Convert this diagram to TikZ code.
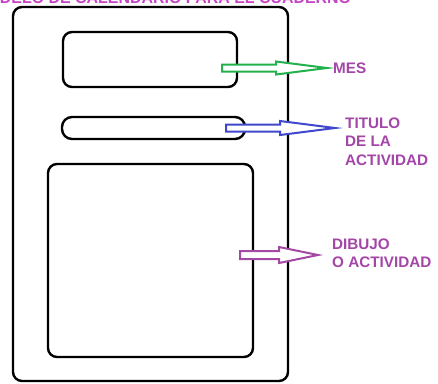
\documentclass[tikz,border=0pt]{standalone}
\usepackage{fontspec}
\setmainfont{Liberation Sans}
\definecolor{lbl}{HTML}{A346A8}
\definecolor{ttl}{HTML}{C545C5}
\definecolor{garrow}{HTML}{22B14C}
\definecolor{barrow}{HTML}{3F48CC}
\definecolor{parrow}{HTML}{A349A4}
\tikzset{
  frame/.style={draw=black, line width=2.4bp, rounded corners=9bp},
  lbltext/.style={text=lbl, font=\fontsize{15.3}{18.5}\selectfont\bfseries, align=left, inner sep=0pt, anchor=west},
  blockarrow/.style={line width=2bp, fill=white, line join=miter}
}
% #1 color, #2 tail x, #3 head base x, #4 tip x, #5 y, #6 shaft half, #7 head half
\newcommand{\hollowarrow}[7]{%
  \draw[blockarrow, draw=#1] (#2,#5-#6) -- (#3,#5-#6) -- (#3,#5-#7) -- (#4,#5) -- (#3,#5+#7) -- (#3,#5+#6) -- (#2,#5+#6) -- cycle;}
\begin{document}
\begin{tikzpicture}[x=1bp,y=-1bp]
\useasboundingbox (0,0) rectangle (438,383);
\clip (0,0) rectangle (438,383);
\fill[white] (0,0) rectangle (438,383);
% title (cut at top)
\node[text=ttl, font=\fontsize{16}{18}\selectfont\bfseries, inner sep=0pt, anchor=base west] (title) at (-26,3) {MODELO DE CALENDARIO PARA EL CUADERNO};
% frames
\draw[frame] (13,7) rectangle (288,381);
\draw[frame] (63,32) rectangle (237,87);
\draw[frame, rounded corners=10bp] (62,117) rectangle (245,139);
\draw[frame] (48,164) rectangle (253,357);
% arrows
\hollowarrow{garrow}{222}{276}{327}{68}{3.5}{6.5}
\hollowarrow{barrow}{226}{280}{335}{128}{3.5}{7}
\hollowarrow{parrow}{240}{279}{318}{255}{4}{8}
% labels
\node[lbltext] (mes) at (333,68) {MES};
\node[lbltext] (tit) at (345,141.5) {TITULO\\DE LA\\ACTIVIDAD};
\node[lbltext] (dib) at (332,253.5) {DIBUJO\\O ACTIVIDAD};
\end{tikzpicture}
\end{document}
